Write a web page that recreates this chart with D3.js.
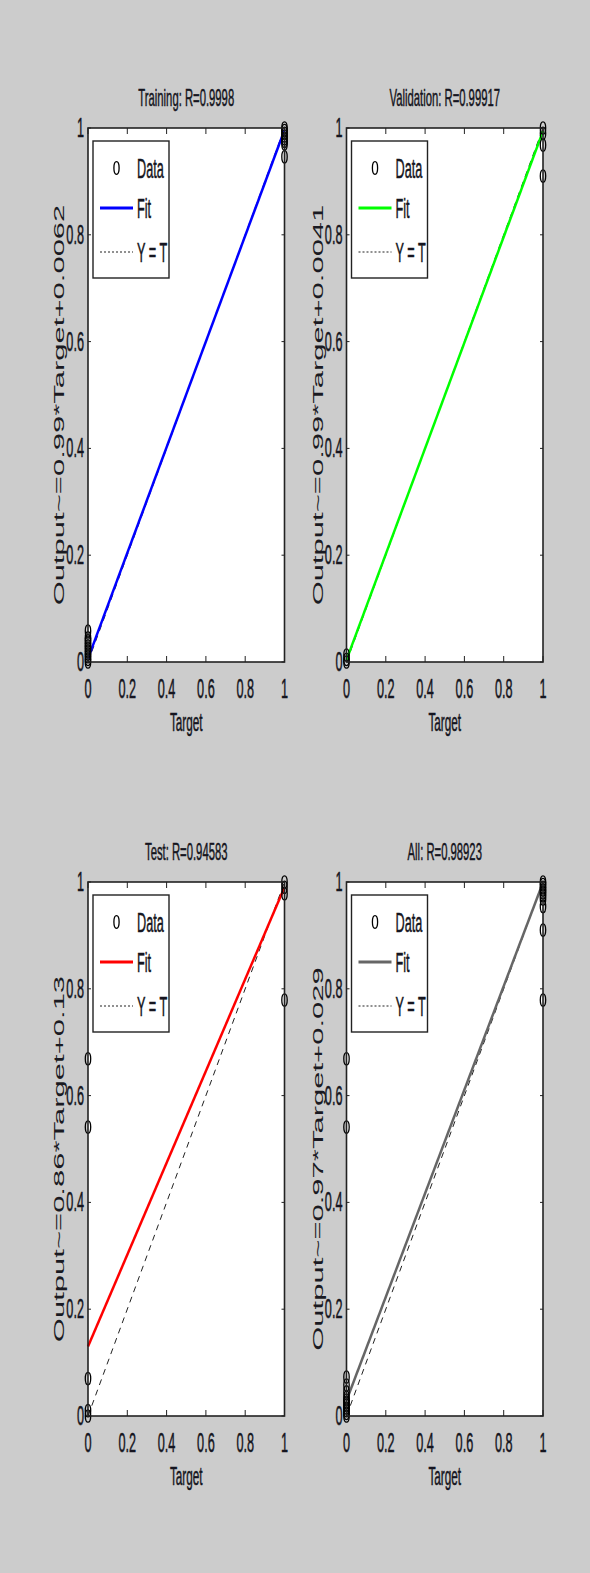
<!DOCTYPE html>
<html>
<head>
<meta charset="utf-8">
<script src="https://cdn.jsdelivr.net/npm/d3@7"></script>
<style>
  html, body { margin: 0; padding: 0; background: #cccccc; }
  svg { display: block; }
  text { font-family: "Liberation Sans", Arial, sans-serif; fill: #151520; stroke: #151520; stroke-width: 0.5; }
  text.ylab { stroke: none; fill: #1a1a22; }
</style>
</head>
<body>
<svg id="chart" width="590" height="1573"></svg>
<script>
// ---------- data ----------
const panelNames = ["Training", "Validation", "Test", "All"];
const titles = ["Training: R=0.9998", "Validation: R=0.99917", "Test: R=0.94583", "All: R=0.98923"];
const yLabels = [
  "Output~=0.99*Target+0.0062",
  "Output~=0.99*Target+0.0041",
  "Output~=0.86*Target+0.13",
  "Output~=0.97*Target+0.029"
];
const fitColors = ["#0000ff", "#00ff00", "#ff0000", "#666666"];
const fitAtTarget0 = [0.0062, 0.0041, 0.13, 0.029];
const fitAtTarget1 = [0.9962, 0.9941, 0.99, 0.999];
const tickValues = [0, 0.2, 0.4, 0.6, 0.8, 1];
const tickLabels = ["0", "0.2", "0.4", "0.6", "0.8", "1"];
const legendLabels = ["Data", "Fit", "Y = T"];
const xLabel = "Target";

// data points: [target, output]
const trainingData = [
  [0, 0], [0, 0.005], [0, 0.01], [0, 0.015], [0, 0.02], [0, 0.025], [0, 0.03],
  [0, 0.035], [0, 0.04], [0, 0.045], [0, 0.058],
  [1, 1.0], [1, 0.995], [1, 0.99], [1, 0.985], [1, 0.98], [1, 0.975], [1, 0.97], [1, 0.946]
];
const validationData = [
  [0, 0], [0, 0.005], [0, 0.013],
  [1, 1.0], [1, 0.99], [1, 0.968], [1, 0.91]
];
const testData = [
  [0, 0], [0, 0.01], [0, 0.07], [0, 0.541], [0, 0.669],
  [1, 1.0], [1, 0.99], [1, 0.978], [1, 0.779]
];
const allData = [
  [0, 0], [0, 0.005], [0, 0.01], [0, 0.015], [0, 0.02], [0, 0.025], [0, 0.03],
  [0, 0.035], [0, 0.045], [0, 0.058], [0, 0.073], [0, 0.541], [0, 0.669],
  [1, 1.0], [1, 0.995], [1, 0.99], [1, 0.985], [1, 0.98], [1, 0.975], [1, 0.968],
  [1, 0.954], [1, 0.91], [1, 0.779]
];
const panelData = [trainingData, validationData, testData, allData];

// ---------- layout ----------
const boxes = [
  { l: 88, r: 284.5, t: 128, b: 662 },
  { l: 346.5, r: 543, t: 128, b: 662 },
  { l: 88, r: 284.5, t: 882, b: 1416 },
  { l: 346.5, r: 543, t: 882, b: 1416 }
];
const SX = 0.47; // horizontal squeeze of text

const svg = d3.select("#chart");

function sText(g, x, y, str, size, anchor) {
  return g.append("text")
    .attr("transform", `translate(${x},${y}) scale(${SX},1)`)
    .attr("text-anchor", anchor)
    .attr("font-size", size)
    .text(str);
}

panelNames.forEach((name, i) => {
  const bx = boxes[i];
  const x = d3.scaleLinear().domain([0, 1]).range([bx.l, bx.r]);
  const y = d3.scaleLinear().domain([0, 1]).range([bx.b, bx.t]);
  const g = svg.append("g").attr("class", "panel-" + name);

  // plot area
  g.append("rect").attr("x", bx.l).attr("y", bx.t)
    .attr("width", bx.r - bx.l).attr("height", bx.b - bx.t)
    .attr("fill", "#ffffff");

  // inner ticks on all sides
  const tk = g.append("g").attr("stroke", "#222").attr("stroke-width", 1);
  tickValues.forEach(v => {
    tk.append("line").attr("x1", x(v)).attr("x2", x(v)).attr("y1", bx.b).attr("y2", bx.b - 6);
    tk.append("line").attr("x1", x(v)).attr("x2", x(v)).attr("y1", bx.t).attr("y2", bx.t + 6);
    tk.append("line").attr("x1", bx.l).attr("x2", bx.l + 3).attr("y1", y(v)).attr("y2", y(v));
    tk.append("line").attr("x1", bx.r).attr("x2", bx.r - 3).attr("y1", y(v)).attr("y2", y(v));
  });

  // Y = T dashed
  g.append("line")
    .attr("x1", x(0)).attr("y1", y(0)).attr("x2", x(1)).attr("y2", y(1))
    .attr("stroke", "#222").attr("stroke-width", 1).attr("stroke-dasharray", "6,5");

  // Fit line
  g.append("line")
    .attr("x1", x(0)).attr("y1", y(fitAtTarget0[i]))
    .attr("x2", x(1)).attr("y2", y(fitAtTarget1[i]))
    .attr("stroke", fitColors[i]).attr("stroke-width", 2.5);

  // data circles
  g.append("g").selectAll("ellipse").data(panelData[i]).join("ellipse")
    .attr("cx", d => x(d[0])).attr("cy", d => y(d[1]))
    .attr("rx", 2.7).attr("ry", 6.2)
    .attr("fill", "none").attr("stroke", "#000").attr("stroke-width", 1.3);

  // box
  g.append("rect").attr("x", bx.l).attr("y", bx.t)
    .attr("width", bx.r - bx.l).attr("height", bx.b - bx.t)
    .attr("fill", "none").attr("stroke", "#222").attr("stroke-width", 1.6);

  // tick labels
  tickValues.forEach((v, k) => {
    sText(g, x(v), bx.b + 36, tickLabels[k], 27, "middle");
    sText(g, bx.l - 4, y(v) + 9, tickLabels[k], 27, "end");
  });

  // title
  sText(g, (bx.l + bx.r) / 2, bx.t - 22, titles[i], 24, "middle");
  // x label
  sText(g, (bx.l + bx.r) / 2, bx.b + 69, xLabel, 25, "middle");
  // y label (rotated, squeezed across its height)
  g.append("text").attr("class", "ylab")
    .attr("transform", `translate(${bx.l - 24},${(bx.t + bx.b) / 2 + 10}) rotate(-90) scale(1,${SX})`)
    .attr("text-anchor", "middle")
    .attr("font-size", 31)
    .text(yLabels[i]);

  // legend
  const lx = bx.l + 5, ly = bx.t + 13, lw = 76, lh = 137;
  const lg = g.append("g");
  lg.append("rect").attr("x", lx).attr("y", ly).attr("width", lw).attr("height", lh)
    .attr("fill", "#fff").attr("stroke", "#222").attr("stroke-width", 1.4);
  const rows = [ly + 27, ly + 67, ly + 111];
  lg.append("ellipse").attr("cx", lx + 23.5).attr("cy", rows[0])
    .attr("rx", 2.6).attr("ry", 6.3).attr("fill", "none").attr("stroke", "#000").attr("stroke-width", 1.3);
  lg.append("line").attr("x1", lx + 7).attr("x2", lx + 40).attr("y1", rows[1]).attr("y2", rows[1])
    .attr("stroke", fitColors[i]).attr("stroke-width", 2.8);
  lg.append("line").attr("x1", lx + 7).attr("x2", lx + 40).attr("y1", rows[2]).attr("y2", rows[2])
    .attr("stroke", "#222").attr("stroke-width", 1.2).attr("stroke-dasharray", "2,2");
  legendLabels.forEach((t, k) => {
    sText(lg, lx + 44, rows[k] + 10, t, 27, "start");
  });
});
</script>
</body>
</html>
